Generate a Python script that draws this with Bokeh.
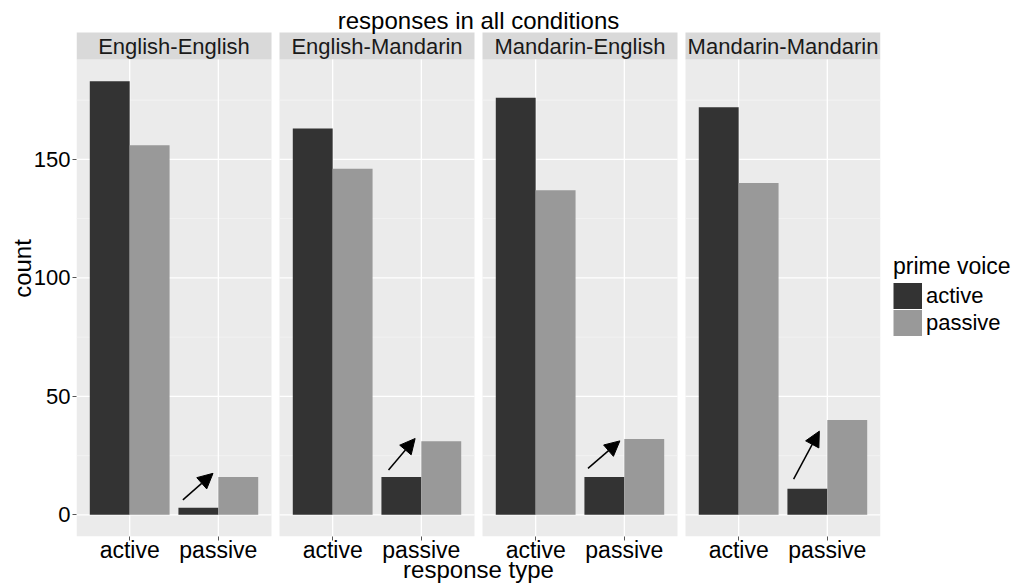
from bokeh.plotting import figure
from bokeh.models import (ColumnDataSource, Range1d, FixedTicker, Legend, LegendItem,
                          Arrow, NormalHead)
from bokeh.core.properties import value
from bokeh.embed import file_html
from bokeh.resources import INLINE

# ---------------- data ----------------
title_text = "responses in all conditions"
conditions = ["English-English", "English-Mandarin", "Mandarin-English", "Mandarin-Mandarin"]
response_types = ["active", "passive"]
prime_voices = ["active", "passive"]
prime_colors = ["#333333", "#999999"]
# counts per condition, by response type active / passive
prime_active_resp_active = [183, 163, 176, 172]
prime_active_resp_passive = [3, 16, 16, 11]
prime_passive_resp_active = [156, 146, 137, 140]
prime_passive_resp_passive = [16, 31, 32, 40]
y_ticks = [0, 50, 100, 150]
y_minor = [25, 75, 125, 175]
# arrow annotations (local panel x in category units, y in counts)
arrow_x0 = [1.60, 1.63, 1.59, 1.62]
arrow_y0 = [6.3, 18.9, 19.6, 15.1]
arrow_x1 = [1.94, 1.93, 1.95, 1.91]
arrow_y1 = [17.5, 32.2, 31.2, 35.3]

# ---------------- layout helpers ----------------
FONT = "Liberation Sans"
FRAME_H = 536
FRAME_W = 804
PANEL_PX = 477
PANEL_W = 2.2          # local x from 0.4 to 2.6
GAP = 0.09
STEP = PANEL_W + GAP
ymax_data = max(prime_active_resp_active)
EXP = 0.05 * ymax_data
y_lo, y_hi = -EXP, ymax_data + EXP
PPU = PANEL_PX / (y_hi - y_lo)
TOP = y_hi + (FRAME_H - PANEL_PX) / PPU
STRIP = 27 / PPU
TITLE_Y = y_hi + 39 / PPU
BAR_W = 0.45

def gx(k, x):
    return k * STEP + (x - 0.4)

n = len(conditions)
x_total = n * PANEL_W + (n - 1) * GAP

p = figure(frame_width=FRAME_W, frame_height=FRAME_H, output_backend="svg",
           toolbar_location=None, title=None,
           x_range=Range1d(0, x_total), y_range=Range1d(y_lo, TOP),
           min_border_left=76, min_border_right=136, min_border_top=0, min_border_bottom=52)
p.background_fill_color = "white"
p.border_fill_color = "white"
p.outline_line_color = None
p.xgrid.visible = False
p.ygrid.visible = False

# panel backgrounds and strips
lefts = [gx(k, 0.4) for k in range(n)]
rights = [gx(k, 2.6) for k in range(n)]
p.quad(left=lefts, right=rights, bottom=[y_lo] * n, top=[y_hi] * n,
       fill_color="#EBEBEB", line_color=None)
p.quad(left=lefts, right=rights, bottom=[y_hi] * n, top=[y_hi + STRIP] * n,
       fill_color="#D9D9D9", line_color=None)
p.text(x=[(a + b) / 2 for a, b in zip(lefts, rights)], y=[y_hi + STRIP / 2] * n,
       text=conditions, text_font=value(FONT), text_font_size="22px",
       text_align="center", text_baseline="middle", text_color="#1a1a1a")

# title (inside frame, above strips)
p.text(x=[x_total / 2], y=[TITLE_Y], text=[title_text], text_font=value(FONT),
       text_font_size="24px", text_align="center", text_baseline="alphabetic",
       text_color="black")

# grid lines
mx0, mx1, my = [], [], []
for k in range(n):
    for t in y_minor:
        mx0.append(lefts[k]); mx1.append(rights[k]); my.append(t)
p.segment(x0=mx0, y0=my, x1=mx1, y1=my, line_color="#F5F5F5", line_width=0.7)
Mx0, Mx1, My = [], [], []
for k in range(n):
    for t in y_ticks:
        Mx0.append(lefts[k]); Mx1.append(rights[k]); My.append(t)
p.segment(x0=Mx0, y0=My, x1=Mx1, y1=My, line_color="white", line_width=1.3)
cat_x = [gx(k, c + 1) for k in range(n) for c in range(len(response_types))]
p.segment(x0=cat_x, y0=[y_lo] * len(cat_x), x1=cat_x, y1=[y_hi] * len(cat_x),
          line_color="white", line_width=1.3)

# bars
dark_x, dark_top, light_x, light_top = [], [], [], []
for k in range(n):
    vals_a = [prime_active_resp_active[k], prime_active_resp_passive[k]]
    vals_p = [prime_passive_resp_active[k], prime_passive_resp_passive[k]]
    for c in range(2):
        dark_x.append(gx(k, c + 1 - BAR_W / 2)); dark_top.append(vals_a[c])
        light_x.append(gx(k, c + 1 + BAR_W / 2)); light_top.append(vals_p[c])
r_dark = p.vbar(x=dark_x, top=dark_top, bottom=0, width=BAR_W,
                fill_color=prime_colors[0], line_color=None)
r_light = p.vbar(x=light_x, top=light_top, bottom=0, width=BAR_W,
                 fill_color=prime_colors[1], line_color=None)

# arrows
asrc = ColumnDataSource(dict(
    x0=[gx(k, arrow_x0[k]) for k in range(n)], y0=arrow_y0,
    x1=[gx(k, arrow_x1[k]) for k in range(n)], y1=arrow_y1))
p.add_layout(Arrow(source=asrc, x_start="x0", y_start="y0", x_end="x1", y_end="y1",
                   line_color="black", line_width=1.5,
                   end=NormalHead(size=15, fill_color="black", line_color="black", line_width=1)))

# axes
p.xaxis.ticker = FixedTicker(ticks=cat_x)
p.xaxis.major_label_overrides = {x: response_types[i % 2] for i, x in enumerate(cat_x)}
p.yaxis.ticker = FixedTicker(ticks=y_ticks)
for ax in (p.xaxis[0], p.yaxis[0]):
    ax.axis_line_color = None
    ax.major_tick_line_color = "#555555"
    ax.major_tick_in = 0
    ax.major_tick_out = 4
    ax.minor_tick_line_color = None
    ax.major_label_text_font = FONT
    ax.major_label_text_color = "black"
    ax.axis_label_text_font = FONT
    ax.axis_label_text_font_size = "24px"
    ax.axis_label_text_font_style = "normal"
    ax.axis_label_text_color = "black"
p.xaxis.major_label_text_font_size = "23px"
p.yaxis.major_label_text_font_size = "22px"
p.xaxis.axis_label = "response type"
p.yaxis.axis_label = "count"
p.xaxis.major_label_standoff = -4
p.xaxis.axis_label_standoff = -10
p.yaxis.major_label_standoff = 2
p.yaxis.axis_label_standoff = -5

# legend: keys drawn as wide butt-capped lines (full-size squares, as in the reference)
key_dark = p.line(x=[0.0], y=[0.0], line_color=prime_colors[0], line_width=26, line_cap="butt")
key_light = p.line(x=[0.0], y=[0.0], line_color=prime_colors[1], line_width=26, line_cap="butt")
legend = Legend(items=[LegendItem(label=prime_voices[0], renderers=[key_dark]),
                       LegendItem(label=prime_voices[1], renderers=[key_light])],
                title="prime voice", location=(13, 200))
legend.title_text_font = FONT
legend.title_text_font_size = "23px"
legend.title_text_font_style = "normal"
legend.title_text_color = "black"
legend.label_text_font = FONT
legend.label_text_font_size = "22px"
legend.label_text_color = "black"
legend.glyph_width = 29
legend.glyph_height = 27
legend.spacing = 0
legend.label_standoff = 4
legend.padding = 4
legend.margin = 0
legend.title_standoff = 2
legend.border_line_color = None
legend.background_fill_alpha = 0
p.add_layout(legend, "right")

open("out.html", "w").write(file_html(p, INLINE))
